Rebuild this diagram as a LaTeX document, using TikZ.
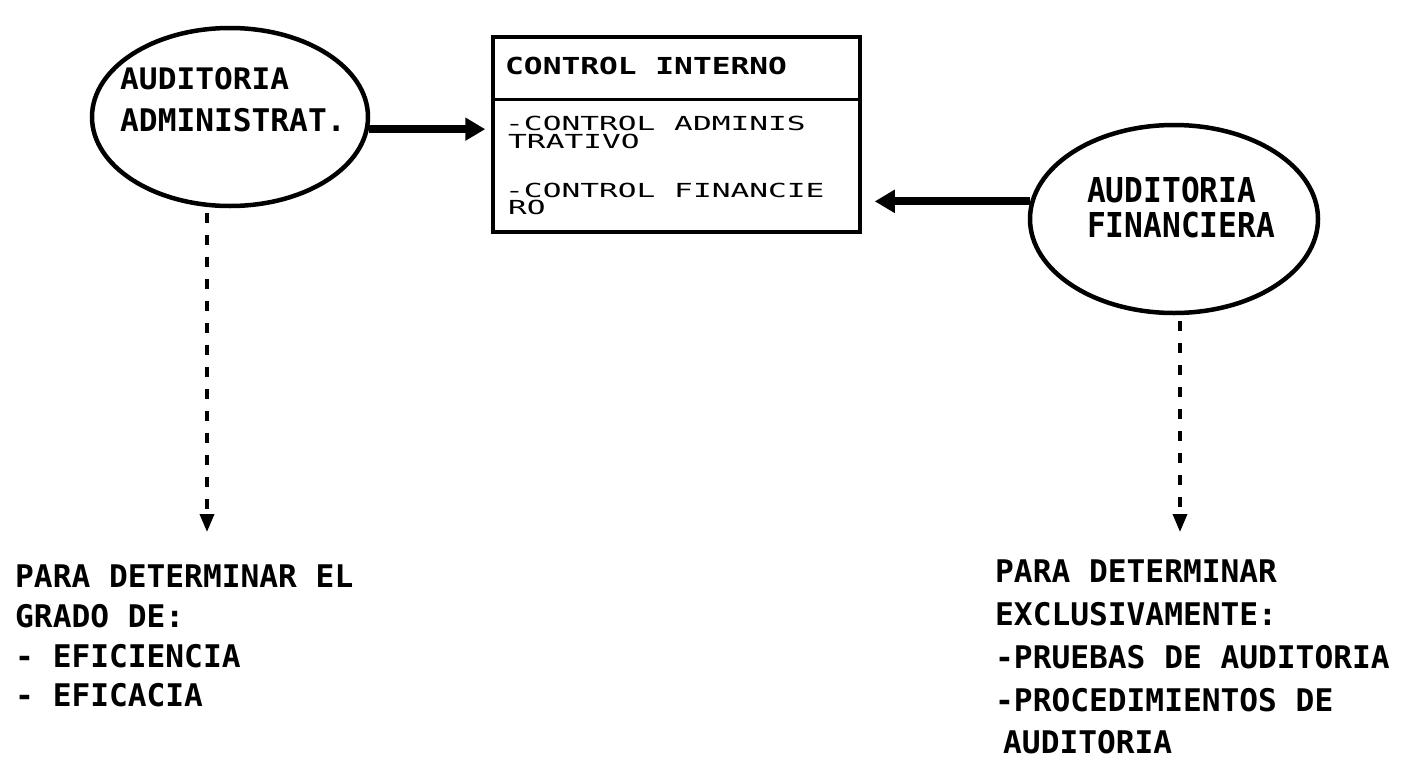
\documentclass[tikz,border=0pt]{standalone}
\usepackage{fontspec}
\usepackage{graphicx}
\usetikzlibrary{arrows.meta,shapes.geometric}
\newfontfamily\dmono{DejaVu Sans Mono}
\newcommand\vs[2]{\scalebox{1}[#1]{#2}}
\begin{document}
\begin{tikzpicture}[x=1pt,y=-1pt,
  txt/.style={anchor=west,inner sep=0pt,font=\dmono\bfseries\fontsize{31.2}{36}\selectfont},
  lighttxt/.style={anchor=west,inner sep=0pt,font=\dmono\fontsize{31.2}{36}\selectfont},
  oval/.style={ellipse,draw,line width=4.5pt,inner sep=0pt},
  fat/.style={line width=8pt,-{Triangle[length=20pt,width=22pt]}},
  dotarrow/.style={line width=3.5pt,dash pattern=on 10pt off 12pt,-{Triangle[length=18pt,width=14pt]}}
]
\useasboundingbox[fill=white] (0,0) rectangle (1408,763);

% ellipses
\node[oval,minimum width=276pt,minimum height=178pt] (le) at (230,117) {};
\node[oval,minimum width=288pt,minimum height=188pt] (re) at (1174,219) {};
\node[txt] (la1) at (120,79) {\vs{0.95}{AUDITORIA}};
\node[txt] (la2) at (120,120) {\vs{1.0}{ADMINISTRAT.}};
\node[txt] (ra1) at (1087,190) {\vs{1.1}{AUDITORIA}};
\node[txt] (ra2) at (1087,225) {\vs{1.1}{FINANCIERA}};

% box
\node[draw,line width=3.5pt,minimum width=367pt,minimum height=195pt,inner sep=0pt] (box) at (676.5,134.5) {};
\draw[line width=3pt] ([yshift=-64pt]box.north west) -- ([yshift=-64pt]box.north east);
\node[txt] (bt) at (505,66) {\vs{0.75}{CONTROL INTERNO}};
\node[lighttxt] (b1) at (505,123) {\vs{0.62}{-CONTROL ADMINIS}};
\node[lighttxt] (b2) at (508,141) {\vs{0.62}{TRATIVO}};
\node[lighttxt] (b3) at (505,190) {\vs{0.62}{-CONTROL FINANCIE}};
\node[lighttxt] (b4) at (508,207) {\vs{0.62}{RO}};

% solid arrows
\draw[fat,shorten >=6pt] (le.-5) -- (box.west |- le.-5);
\draw[fat,shorten >=13pt] (re.173) -- (box.east |- re.173);

% dashed arrows
\coordinate (ltip) at (207,532);
\coordinate (rtip) at (1180,532);
\draw[dotarrow,shorten <=5pt] (ltip |- le.south) -- (ltip);
\draw[dotarrow,shorten <=6pt] (rtip |- re.south) -- (rtip);

% bottom texts
\node[txt] (l1) at (15,576) {PARA DETERMINAR EL};
\node[txt] (l2) at (15,616) {GRADO DE:};
\node[txt] (l3) at (15,656) {- EFICIENCIA};
\node[txt] (l4) at (15,695) {- EFICACIA};

\node[txt] (r1) at (995,571) {PARA DETERMINAR};
\node[txt] (r2) at (995,614) {EXCLUSIVAMENTE:};
\node[txt] (r3) at (995,657) {-PRUEBAS DE AUDITORIA};
\node[txt] (r4) at (995,700) {-PROCEDIMIENTOS DE};
\node[txt] (r5) at (1003,742) {AUDITORIA};
\end{tikzpicture}
\end{document}
